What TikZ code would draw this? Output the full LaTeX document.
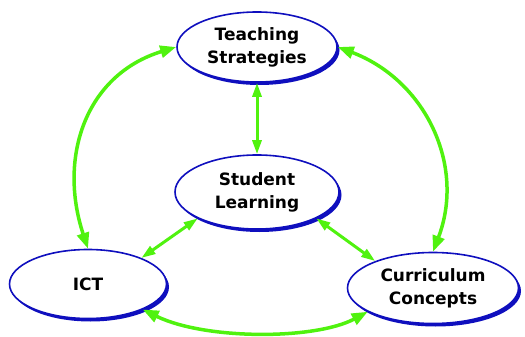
\documentclass[tikz,border=0pt]{standalone}
\usepackage{fontspec}
\setmainfont{DejaVu Sans}
\usetikzlibrary{shapes.geometric,shadows,arrows.meta}
\definecolor{ellblue}{RGB}{15,15,190}
\definecolor{linkgreen}{RGB}{80,242,15}
\tikzset{
	idea/.style={ellipse, draw=ellblue, line width=1.6pt, fill=white, inner sep=0pt,
		align=center, font=\fontsize{17}{23}\selectfont\bfseries,
		general shadow={fill=ellblue, shadow xshift=2.5pt, shadow yshift=-3pt}},
	link/.style={draw=linkgreen, line width=3pt, >={Triangle[length=14pt,width=9pt]}, <->},
	arc link/.style={link, line width=3.5pt, >={Triangle[length=16pt,width=12pt]}},
}

\begin{document}
\begin{tikzpicture}[x=1pt,y=-1pt]
	\useasboundingbox (0,0) rectangle (525,337);

	\node[idea, minimum width=160pt, minimum height=70pt] (teach) at (257,47) {Teaching\\Strategies};
	\node[idea, minimum width=164pt, minimum height=74pt] (learn) at (257,192) {Student\\Learning};
	\node[idea, minimum width=157pt, minimum height=69pt] (ict) at (88,284) {ICT};
	\node[idea, minimum width=171pt, minimum height=71pt] (curr) at (433,288) {Curriculum\\Concepts};

	\foreach \a / \b in {
	teach.south/learn.north,
	learn.204/ict.26,
	learn.336/curr.155}
	{
		\path (\a) edge[link] (\b);
	};

	\draw[arc link] (teach.west) .. controls (85,75) and (58,158) .. (ict.north);
	\draw[arc link] (teach.east) .. controls (425,80) and (466,165) .. (curr.north);
	\draw[arc link] (ict.-25) .. controls (205,340) and (315,340) .. (curr.200);
\end{tikzpicture}
\end{document}
